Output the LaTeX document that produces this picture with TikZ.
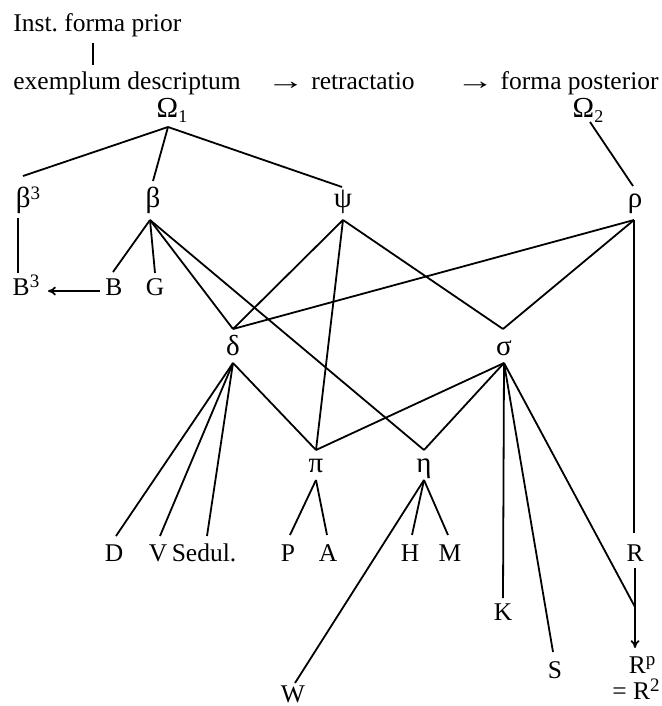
\documentclass[tikz,border=0pt]{standalone}
\usepackage{fontspec}
\setmainfont{Liberation Serif}
\usetikzlibrary{arrows.meta}
\newcommand\lsub[1]{\raisebox{-0.4ex}{\fontsize{9}{9}\selectfont #1}}
\newcommand\lsup[1]{\raisebox{0.6ex}{\fontsize{9.5}{9.5}\selectfont #1}}
\newcommand\grk[1]{{\fontsize{14.5}{15}\selectfont #1}}
\newcommand\larr{\scalebox{1.5}[1]{→}}
\frenchspacing
\begin{document}
\begin{tikzpicture}[x=0.5pt,y=-0.5pt,
  lbl/.style={inner sep=0pt, anchor=base, font=\fontsize{12.75}{15}\selectfont},
  txt/.style={lbl, anchor=base west},
  txtr/.style={lbl, anchor=base east},
  edge/.style={line width=0.9pt},
  arr/.style={edge, -{To[length=4pt,width=4.5pt]}}]
\useasboundingbox (0,0) rectangle (662,706);
% header texts
\node[txt] (inst) at (13,32) {Inst. forma prior};
\node[txt] (exd) at (13,90) {exemplum descriptum};
\node[txtr] (retr) at (415,90) {\larr\ retractatio};
\node[txtr] (fpost) at (659,90) {\larr\ forma posterior};
\coordinate (instb) at (93,43);
\coordinate (exdt) at (93,65);
% labels
\node[lbl] (O1) at (172,118) {\grk{Ω}\lsub{1}};
\node[lbl] (O2) at (588,118) {\grk{Ω}\lsub{2}};
\node[lbl] (beta3) at (28,207) {\grk{β}\lsup{3}};
\node[lbl] (beta) at (153,207) {\grk{β}};
\node[lbl] (psi) at (343,207) {\grk{ψ}};
\node[lbl] (rho) at (635,207) {\grk{ρ}};
\node[lbl] (B3) at (26,295) {B\lsup{3}};
\node[lbl] (B) at (114,295) {B};
\node[lbl] (G) at (155,295) {G};
\node[lbl] (delta) at (233,355) {\grk{δ}};
\node[lbl] (sigma) at (504,355) {\grk{σ}};
\node[lbl] (pi) at (316,472) {\grk{π}};
\node[lbl] (eta) at (424,472) {\grk{η}};
\node[lbl] (D) at (114,561) {D};
\node[lbl] (V) at (158,561) {V};
\node[lbl] (Sedul) at (204,561) {Sedul.};
\node[lbl] (P) at (288,561) {P};
\node[lbl] (A) at (328,561) {A};
\node[lbl] (H) at (410,561) {H};
\node[lbl] (M) at (450,561) {M};
\node[lbl] (R) at (635,561) {R};
\node[lbl] (K) at (503,620) {K};
\node[lbl] (S) at (555,678) {S};
\node[lbl] (Rp) at (642,673) {R\lsup{p}};
\node[lbl] (eqR) at (636,699) {= R\lsup{2}};
\node[lbl] (W) at (293,702) {W};
% junction coordinates
\coordinate (O1b) at (168,127);
\coordinate (O2b) at (590,122);
\coordinate (beta3t) at (23,176);
\coordinate (beta3b) at (18,218);
\coordinate (B3t) at (18,273);
\coordinate (B3e) at (48,291);
\coordinate (Bw) at (100,291);
\coordinate (betat) at (153,181);
\coordinate (betab) at (150,220);
\coordinate (psit) at (342,187);
\coordinate (psib) at (343,220);
\coordinate (rhot) at (633,186);
\coordinate (rhob) at (634,220);
\coordinate (Bt) at (113,272);
\coordinate (Gt) at (155,273);
\coordinate (deltat) at (233,329);
\coordinate (deltab) at (233,363);
\coordinate (sigmat) at (503,329);
\coordinate (sigmab) at (504,363);
\coordinate (pit) at (316,450);
\coordinate (pib) at (316,480);
\coordinate (etat) at (424,450);
\coordinate (etab) at (424,480);
\coordinate (Dt) at (116,536);
\coordinate (Vt) at (160,536);
\coordinate (Sedult) at (207,536);
\coordinate (Pt) at (290,535);
\coordinate (At) at (327,535);
\coordinate (Ht) at (412,535);
\coordinate (Mt) at (448,535);
\coordinate (Rt) at (634,533);
\coordinate (Rb) at (635,568);
\coordinate (Rj) at (635,607);
\coordinate (Rpt) at (635,648);
\coordinate (Kt) at (503,598);
\coordinate (St) at (553,652);
\coordinate (Wt) at (295,683);
% connectors
\draw[edge] (instb) -- (exdt);
\draw[edge] (O1b) -- (beta3t);
\draw[edge] (O1b) -- (betat);
\draw[edge] (O1b) -- (psit);
\draw[edge] (O2b) -- (rhot);
\draw[edge] (beta3b) -- (B3t);
\draw[arr] (Bw) -- (B3e);
\draw[edge] (betab) -- (Bt);
\draw[edge] (betab) -- (Gt);
\draw[edge] (betab) -- (deltat);
\draw[edge] (betab) -- (etat);
\draw[edge] (psib) -- (deltat);
\draw[edge] (psib) -- (pit);
\draw[edge] (psib) -- (sigmat);
\draw[edge] (rhob) -- (deltat);
\draw[edge] (rhob) -- (sigmat);
\draw[edge] (rhob) -- (Rt);
\draw[edge] (deltab) -- (Dt);
\draw[edge] (deltab) -- (Vt);
\draw[edge] (deltab) -- (Sedult);
\draw[edge] (deltab) -- (pit);
\draw[edge] (sigmab) -- (pit);
\draw[edge] (sigmab) -- (etat);
\draw[edge] (sigmab) -- (Kt);
\draw[edge] (sigmab) -- (St);
\draw[edge] (sigmab) -- (Rj);
\draw[edge] (pib) -- (Pt);
\draw[edge] (pib) -- (At);
\draw[edge] (etab) -- (Ht);
\draw[edge] (etab) -- (Mt);
\draw[edge] (etab) -- (Wt);
\draw[arr] (Rb) -- (Rpt);
\end{tikzpicture}
\end{document}
